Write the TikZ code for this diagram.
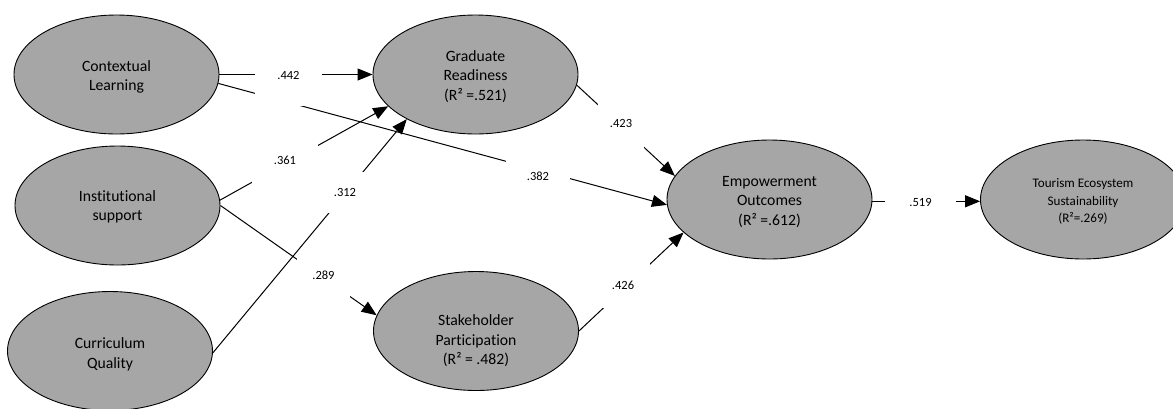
\documentclass[tikz,border=0pt]{standalone}
\usepackage{fontspec}
\setmainfont{Carlito}[Ligatures=NoCommon]
\usetikzlibrary{shapes.geometric,arrows.meta}
\definecolor{ellfill}{HTML}{A6A6A6}
\newcommand{\etext}[2]{\raisebox{#1}[0pt][0pt]{\begin{tabular}{@{}c@{}}#2\end{tabular}}}
\begin{document}
\begin{tikzpicture}[x=1pt,y=-1pt,
  latent/.style={ellipse, draw=black, line width=0.9pt, fill=ellfill,
    minimum width=205pt, minimum height=119pt, inner sep=0pt,
    font=\fontsize{15.7}{19.5}\selectfont},
  smalllatent/.style={latent, font=\fontsize{13.1}{17.5}\selectfont},
  link/.style={line width=1pt, -{Triangle[length=15pt,width=12pt]}},
  coef/.style={fill=white, inner sep=0pt, anchor=base,
    font=\fontsize{12.5}{15}\selectfont}
]
\useasboundingbox (0,0) rectangle (1173,408);
\fill[white] (0,0) rectangle (1173,408);
\clip (0,0) rectangle (1173,408);

% latent variables
\node[latent] (CL) at (116.5,74.5) {\etext{-6.4pt}{Contextual\\Learning}};
\node[latent] (IS) at (117.5,205.5) {\etext{-5.4pt}{Institutional\\support}};
\node[latent] (CQ) at (110,351) {\etext{-7.4pt}{Curriculum\\Quality}};
\node[latent] (GR) at (475.5,74.5) {\etext{-5.9pt}{Graduate\\Readiness\\(R² =.521)}};
\node[latent] (SP) at (476,331) {\etext{-13.9pt}{Stakeholder\\Participation\\(R² = .482)}};
\node[latent] (EO) at (769.5,199.5) {\etext{-5.9pt}{Empowerment\\Outcomes\\(R² =.612)}};
\node[smalllatent] (TE) at (1083,199.5) {\etext{-5.3pt}{Tourism Ecosystem\\Sustainability\\(R²=.269)}};

% paths
\draw[link] (CL.east) -- (GR.west);
\draw[link] (CL.-5.85) -- (EO.183.1);
\draw[link] (IS.3) -- (GR.200.1);
\draw[link] (CQ.-1.1) -- (GR.213.2);
\draw[link] (IS.east) -- (SP.171.9);
\draw[link] (GR.-6.8) -- (EO.166.2);
\draw[link] (SP.east) -- (EO.201.6);
\draw[link] (EO.-1) -- (TE.181);

% path coefficients (white boxes interrupt the lines)
\node[coef, minimum width=67pt, text height=21pt, text depth=27pt] (c442) at (288.5,79) {.442};
\node[coef, minimum width=64pt, text height=25pt, text depth=15pt] (c382) at (538,180) {.382};
\node[coef, minimum width=66pt, text height=22pt, text depth=22pt] (c361) at (285,164) {.361};
\node[coef, minimum width=40pt, text height=24pt, text depth=17pt] (c312) at (345,196) {.312};
\node[coef, minimum width=46pt, text height=27pt, text depth=23pt] (c423) at (621,127) {.423};
\node[coef, minimum width=54pt, text height=27pt, text depth=19pt] (c426) at (623,289) {.426};
\node[coef, minimum width=53pt, text height=25pt, text depth=21pt] (c289) at (323.5,279) {.289};
\node[coef, minimum width=71pt, text height=16pt, text depth=8pt] (c519) at (920.5,206) {.519};
\end{tikzpicture}
\end{document}
